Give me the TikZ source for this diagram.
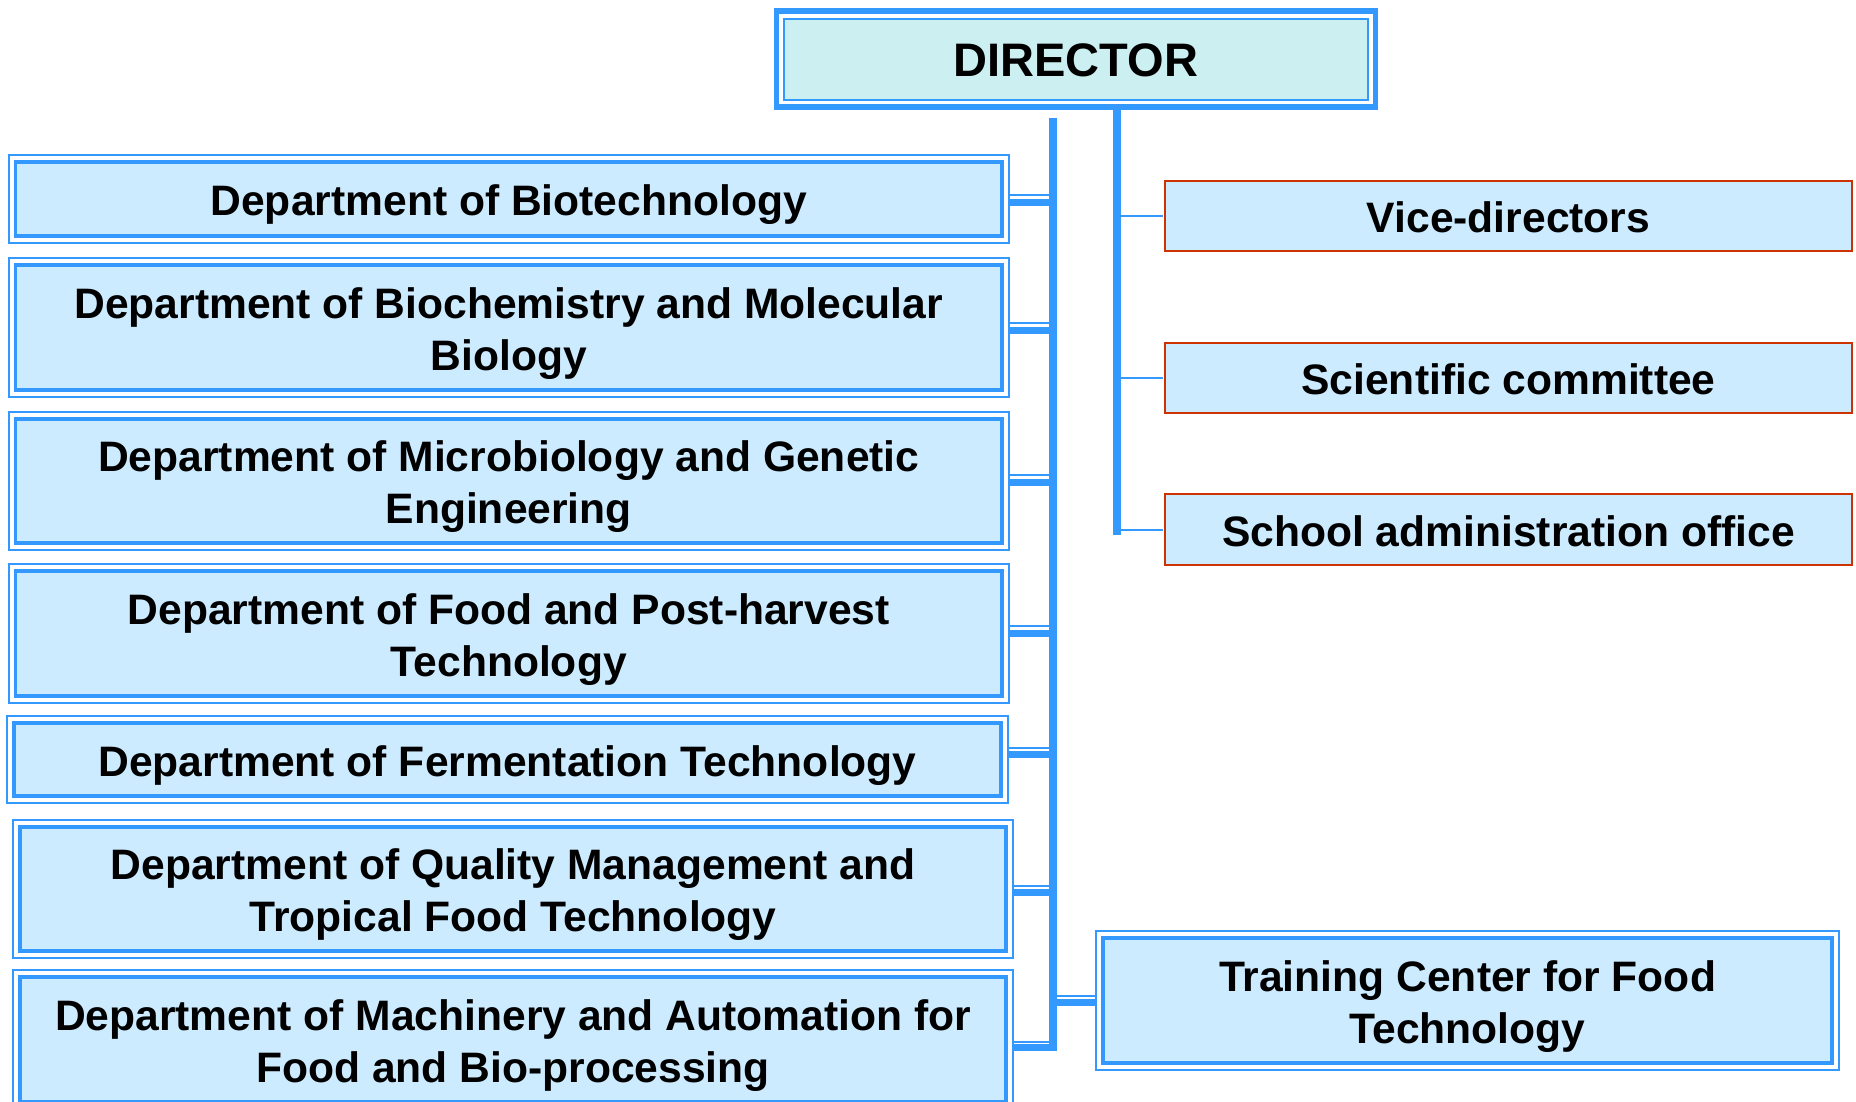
\documentclass[tikz,border=0pt]{standalone}
\usepackage{fontspec}
\setmainfont{Liberation Sans}
\definecolor{lineblue}{RGB}{51,153,255}
\definecolor{boxfill}{RGB}{204,235,255}
\definecolor{dirfill}{RGB}{204,239,241}
\definecolor{redline}{RGB}{204,51,0}
\tikzset{
  deptbox/.style={draw=lineblue, line width=3.3pt, fill=boxfill, inner sep=0pt},
  outerline/.style={draw=lineblue, line width=2pt},
  redbox/.style={draw=redline, line width=2pt, fill=boxfill, inner sep=0pt},
  dirbox/.style={draw=lineblue, line width=2pt, fill=dirfill, inner sep=0pt},
  boxtext/.style={inner sep=0pt, align=center, font=\fontsize{42.6}{52}\selectfont\bfseries},
  dirtextstyle/.style={inner sep=0pt, align=center, font=\fontsize{47}{56}\selectfont\bfseries},
  thinlink/.style={draw=lineblue, line width=2pt},
  thicklink/.style={draw=lineblue, line width=7pt},
  barline/.style={draw=lineblue, line width=8pt},
}
% name, x1, y1, x2, y2, text  (outer edges, y downwards)
\newcommand\mydept[6]{%
  \node[deptbox, minimum width={#4-#2-12}, minimum height={#5-#3-12}] (#1) at ({(#2+#4)/2},{(#3+#5)/2}) {};
  \draw[outerline] ([shift={(-5pt,-5pt)}]#1.south west) rectangle ([shift={(5pt,5pt)}]#1.north east);
  \node[boxtext] (#1text) at ([yshift=-6pt]#1.center) {#6};
}
\newcommand\myred[6]{%
  \node[redbox, minimum width={#4-#2-2}, minimum height={#5-#3-2}] (#1) at ({(#2+#4)/2},{(#3+#5)/2}) {};
  \node[boxtext] (#1text) at ([yshift=-1.5pt]#1.center) {#6};
}
\begin{document}
\begin{tikzpicture}[x=1pt,y=-1pt]
\useasboundingbox (0,0) rectangle (1856,1102);
\begin{scope}
\clip (0,0) rectangle (1856,1102);

% Director
\node[dirbox, minimum width=584, minimum height=81] (dir) at (1076,59.25) {};
\draw[lineblue, line width=5.5pt] ([shift={(-6.5pt,-6.5pt)}]dir.south west) rectangle ([shift={(6.5pt,6.5pt)}]dir.north east);
\node[dirtextstyle] (dirtext) at ([yshift=-1pt]dir.center) {DIRECTOR};

% bars
\coordinate (lbtop) at (1053,118);
\coordinate (lbbot) at (1053,1051);
\coordinate (rbtop) at (1117,109);
\coordinate (rbbot) at (1117,535);
\draw[barline] (lbtop) -- (lbbot);
\draw[barline] (rbtop) -- (rbbot);

% departments
\mydept{d1}{9.5}{156}{1008}{242}{Department of Biotechnology}
\mydept{d2}{9.5}{259}{1008}{396}{Department of Biochemistry and Molecular\\Biology}
\mydept{d3}{9.5}{413}{1008}{549}{Department of Microbiology and Genetic\\Engineering}
\mydept{d4}{9.5}{565}{1008}{702}{Department of Food and Post-harvest\\Technology}
\mydept{d5}{8}{717}{1007}{802}{Department of Fermentation Technology}
\mydept{d6}{14}{821}{1012}{957}{Department of Quality Management and\\Tropical Food Technology}
\mydept{d7}{14}{971}{1012}{1108}{Department of Machinery and Automation for\\Food and Bio-processing}

% department connectors (thin line above, thick line below)
\foreach \n/\tn/\tk in {d1/3.5/-3.5, d2/4.5/-3, d3/6/-1.5, d4/7.5/0, d5/12/5, d6/3/-3, d7/-2.5/-8}{
  \draw[thinlink] ([xshift=5pt,yshift=\tn pt]\n.east) -- ([yshift=\tn pt]\n.east -| lbtop);
  \draw[thicklink] ([xshift=5pt,yshift=\tk pt]\n.east) -- ([yshift=\tk pt]\n.east -| lbtop);
}

% red boxes
\myred{vice}{1164}{180}{1853}{252}{Vice-directors}
\myred{sci}{1164}{342}{1853}{414}{Scientific committee}
\myred{school}{1164}{493}{1853}{566}{School administration office}
\foreach \n in {vice,sci,school}{
  \draw[thinlink] (\n.west -| rbtop) -- ([xshift=-1pt]\n.west);
}

% training centre
\mydept{train}{1097}{932}{1838}{1069}{Training Center for Food\\Technology}
\draw[thinlink] ([xshift=-5pt,yshift=4.5pt]train.west) -- ([yshift=4.5pt]train.west -| lbtop);
\draw[thicklink] ([xshift=-5pt,yshift=-2pt]train.west) -- ([yshift=-2pt]train.west -| lbtop);
\end{scope}
\end{tikzpicture}
\end{document}
